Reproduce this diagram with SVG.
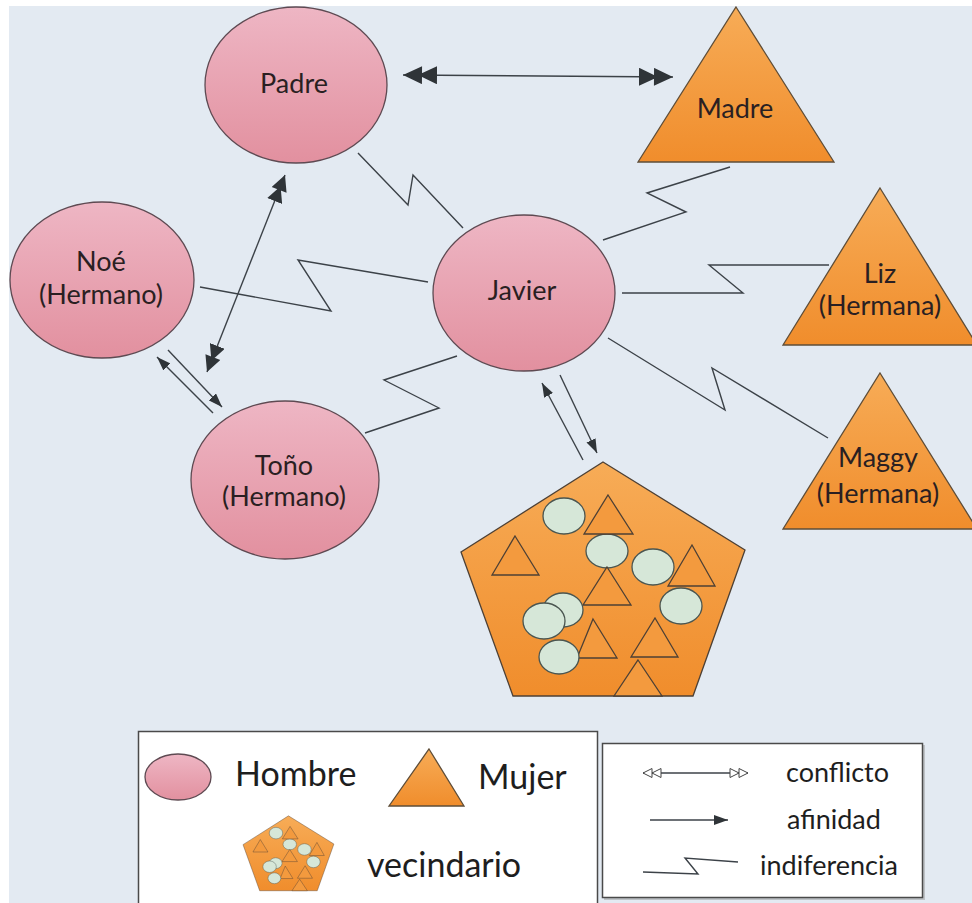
<svg xmlns="http://www.w3.org/2000/svg" width="972" height="903" viewBox="0 0 972 903">
<style>
.bg{fill:#e3eaf2}
.male{fill:url(#gPink);stroke:#5e4a52;stroke-width:1.3}
.fem{fill:url(#gOrange);stroke:#5e4d38;stroke-width:1.3}
.hoodShape{fill:url(#gOrange);stroke:#4d4035;stroke-width:1.3}
.inTri{fill:#f39a3e;stroke:#4d4035;stroke-width:1.3}
.inCirc{fill:#d6e7d8;stroke:#4a5550;stroke-width:1.3}
.lbl{font-family:Lato,"Liberation Sans",sans-serif;font-size:27px;fill:#2a1f22;text-anchor:middle}
.leg{font-family:Lato,"Liberation Sans",sans-serif;font-size:34px;fill:#1e1e1e}
.leg2{font-family:Lato,"Liberation Sans",sans-serif;font-size:27px;fill:#1e1e1e}
.ln{fill:none;stroke:#3c4248;stroke-width:1.4}
.box{fill:#ffffff;stroke:#4a4a4a;stroke-width:1.5}
</style>
<defs>
<linearGradient id="gPink" x1="0" y1="0" x2="0" y2="1">
<stop offset="0" stop-color="#eeb6c4"/>
<stop offset="1" stop-color="#e2909f"/>
</linearGradient>
<linearGradient id="gOrange" x1="0" y1="0" x2="0" y2="1">
<stop offset="0" stop-color="#f7ac57"/>
<stop offset="1" stop-color="#f08d2c"/>
</linearGradient>
<marker id="dbl" viewBox="0 0 34 18" refX="34" refY="9" markerWidth="34" markerHeight="18" markerUnits="userSpaceOnUse" orient="auto-start-reverse">
<path d="M15,0 L34,9 L15,18 Z M0,0 L19,9 L0,18 Z" fill="#2f3438"/>
</marker>
<marker id="dblS" viewBox="0 0 28 16" refX="28" refY="8" markerWidth="28" markerHeight="16" markerUnits="userSpaceOnUse" orient="auto-start-reverse">
<path d="M12,0 L28,8 L12,16 Z M0,0 L16,8 L0,16 Z" fill="#2f3438"/>
</marker>
<marker id="arr" viewBox="0 0 14 10" refX="14" refY="5" markerWidth="14" markerHeight="10" markerUnits="userSpaceOnUse" orient="auto">
<path d="M0,0 L14,5 L0,10 Z" fill="#2f3438"/>
</marker>
<marker id="dblHollow" viewBox="-1 -1 20 11" refX="18" refY="4.5" markerWidth="20" markerHeight="11" markerUnits="userSpaceOnUse" orient="auto-start-reverse">
<path d="M9,0 L18,4.5 L9,9 Z M0,0 L9,4.5 L0,9 Z" fill="#ffffff" stroke="#444" stroke-width="1"/>
</marker>
<g id="hood">
<polygon class="hoodShape" points="603,462 745,550 693,696 513,696 461,552"/>
<ellipse class="inCirc" cx="564" cy="516" rx="21" ry="18"/>
<ellipse class="inCirc" cx="607" cy="551" rx="21" ry="17"/>
<polygon class="inTri" points="608,495 633,534 584,534"/>
<polygon class="inTri" points="515,536 539,575 492,575"/>
<polygon class="inTri" points="692,545 715,586 668,586"/>
<ellipse class="inCirc" cx="653" cy="567" rx="21" ry="18"/>
<polygon class="inTri" points="607,567 631,605 583,605"/>
<ellipse class="inCirc" cx="563" cy="610" rx="20" ry="17"/>
<ellipse class="inCirc" cx="544" cy="621" rx="21" ry="18"/>
<ellipse class="inCirc" cx="681" cy="606" rx="21" ry="18"/>
<polygon class="inTri" points="593,619 617,658 577,658"/>
<polygon class="inTri" points="655,618 678,657 631,657"/>
<ellipse class="inCirc" cx="559" cy="657" rx="20" ry="17"/>
<polygon class="inTri" points="638,660 662,696 614,696"/>
</g>
</defs>
<rect x="0" y="0" width="972" height="903" fill="#ffffff"/>
<rect class="bg" x="9" y="6" width="963" height="897"/>

<g id="connectors">
<line class="ln" x1="403" y1="75" x2="673" y2="77" marker-start="url(#dbl)" marker-end="url(#dbl)"/>
<line class="ln" x1="285" y1="175" x2="207" y2="372" marker-start="url(#dblS)" marker-end="url(#dblS)"/>
<line class="ln" x1="213" y1="413" x2="157" y2="357" marker-end="url(#arr)"/>
<line class="ln" x1="168" y1="350" x2="222" y2="407" marker-end="url(#arr)"/>
<line class="ln" x1="583" y1="460" x2="542" y2="383" marker-end="url(#arr)"/>
<line class="ln" x1="560" y1="375" x2="597" y2="453" marker-end="url(#arr)"/>
<polyline class="ln" points="358,153 408,205 413,175 463,228"/>
<polyline class="ln" points="200,287 331,311 298,260 428,282"/>
<polyline class="ln" points="365,433 439,408 384,380 457,356"/>
<polyline class="ln" points="603,240 686,212 647,193 730,167"/>
<polyline class="ln" points="622,293 743,293 709,265 829,265"/>
<polyline class="ln" points="608,338 725,410 712,368 828,438"/>
</g>

<g id="padre">
<ellipse class="male" cx="296" cy="85" rx="91" ry="78"/>
<text class="lbl" x="294" y="93">Padre</text>
</g>
<g id="madre">
<polygon class="fem" points="736,7 834,162 638,162"/>
<text class="lbl" x="735" y="118">Madre</text>
</g>
<g id="noe">
<ellipse class="male" cx="102" cy="280" rx="92" ry="78"/>
<text class="lbl" x="101" y="271">Noé</text>
<text class="lbl" x="101" y="304">(Hermano)</text>
</g>
<g id="javier">
<ellipse class="male" cx="524" cy="293" rx="91" ry="78"/>
<text class="lbl" x="522" y="300">Javier</text>
</g>
<g id="liz">
<polygon class="fem" points="880,188 977,345 783,345"/>
<text class="lbl" x="880" y="283">Liz</text>
<text class="lbl" x="880" y="315">(Hermana)</text>
</g>
<g id="maggy">
<polygon class="fem" points="880,373 977,529 783,529"/>
<text class="lbl" x="878" y="467">Maggy</text>
<text class="lbl" x="878" y="503">(Hermana)</text>
</g>
<g id="tono">
<ellipse class="male" cx="285" cy="480" rx="94" ry="79"/>
<text class="lbl" x="284" y="475">Toño</text>
<text class="lbl" x="284" y="506">(Hermano)</text>
</g>
<g id="vecindario">
<use href="#hood"/>
</g>

<g id="legend-left">
<rect class="box" x="138.5" y="731.5" width="459" height="180"/>
<ellipse class="male" cx="178" cy="777" rx="33" ry="23"/>
<text class="leg" x="235" y="786">Hombre</text>
<polygon class="fem" points="429,749 464,806 389,806"/>
<text class="leg" x="478" y="789">Mujer</text>
<use href="#hood" transform="translate(95.5,668) scale(0.32)"/>
<text class="leg" x="367" y="877">vecindario</text>
</g>
<g id="legend-right">
<rect x="604" y="745" width="321" height="155" fill="#9a9a9a" opacity="0.5"/>
<rect class="box" x="602.5" y="743.5" width="320" height="154"/>
<line class="ln" x1="643" y1="773" x2="748" y2="773" stroke-width="1" marker-start="url(#dblHollow)" marker-end="url(#dblHollow)"/>
<text class="leg2" x="786" y="782">conflicto</text>
<line class="ln" x1="650" y1="820" x2="728" y2="820" marker-end="url(#arr)"/>
<text class="leg2" x="787" y="829">afinidad</text>
<polyline class="ln" points="643,872 698,874 685,858 738,862"/>
<text class="leg2" x="760" y="875">indiferencia</text>
</g>
</svg>
